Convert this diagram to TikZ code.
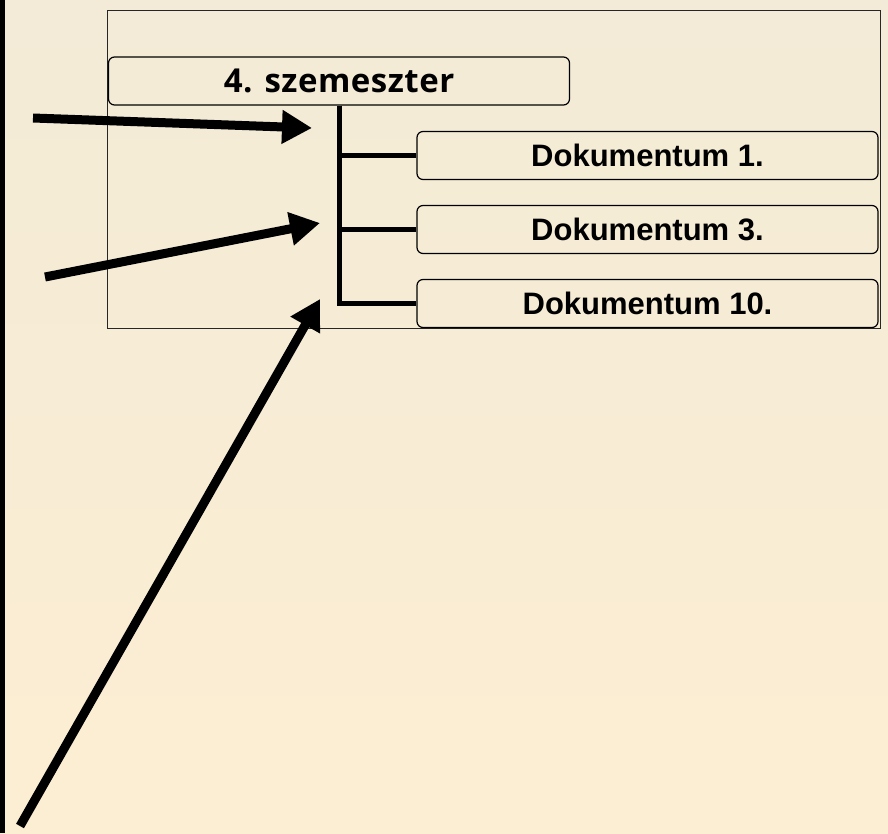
\documentclass[tikz,border=0pt]{standalone}
\usepackage{fontspec}
\setmainfont{Liberation Sans}
\newfontfamily\headfont[LetterSpace=1.5]{Open Sans}
\usetikzlibrary{arrows.meta}

\definecolor{bgtop}{RGB}{243,235,215}
\definecolor{bgbot}{RGB}{252,238,210}

\tikzset{
    box/.style={draw, rounded corners=6pt, line width=1.2pt, inner sep=0pt,
        minimum width=461pt, minimum height=48pt},
    branch/.style={line width=5pt},
    pointer/.style={line width=9pt, -{Triangle[length=30pt,width=32pt]}}
}

\begin{document}
\begin{tikzpicture}[x=1pt, y=-1pt]

    \useasboundingbox (0, 0) rectangle (888, 833);
    \shade[top color=bgtop, bottom color=bgbot] (0, 0) rectangle (888, 833);
    \fill[black] (0, 0) rectangle (5, 833);

    \draw[line width=1pt, black!85] (107, 10) rectangle (880, 328);

    \node[box] (sem) at (339, 81)
        {\headfont\bfseries\fontsize{33}{36}\selectfont 4. szemeszter};

    \node[box] (doc1) at (647.5, 155.5)
        {\fontsize{31}{36}\selectfont\bfseries Dokumentum 1.};
    \node[box] (doc3) at (647.5, 229.5)
        {\fontsize{31}{36}\selectfont\bfseries Dokumentum 3.};
    \node[box] (doc10) at (647.5, 303.5)
        {\fontsize{31}{36}\selectfont\bfseries Dokumentum 10.};

    \draw[branch] (sem.south) |- (doc1.west);
    \draw[branch] (sem.south) |- (doc3.west);
    \draw[branch] (sem.south) |- (doc10.west);

    % pointers from the left
    \coordinate (p1) at (33, 118);
    \coordinate (q1) at (312, 128);
    \coordinate (p2) at (45, 277);
    \coordinate (q2) at (320, 223);
    \coordinate (p3) at (20, 826);
    \coordinate (q3) at (320, 299);

    \draw[pointer] (p1) -- (q1);
    \draw[pointer] (p2) -- (q2);
    \draw[pointer] (p3) -- (q3);

\end{tikzpicture}
\end{document}
